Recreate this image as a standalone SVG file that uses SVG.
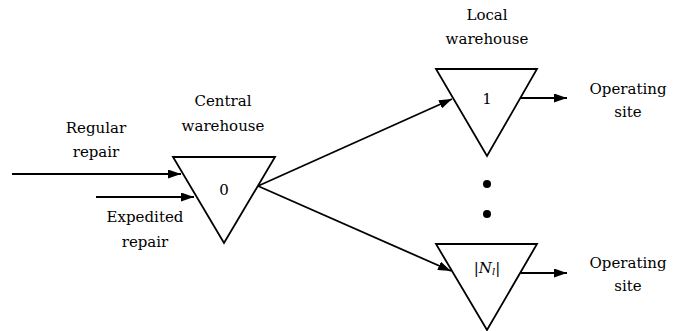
<svg xmlns="http://www.w3.org/2000/svg" width="674" height="331" viewBox="0 0 674 331">
<style>
.tri{fill:#fff;stroke:#000;stroke-width:1.8;stroke-linejoin:miter}
.ln{stroke:#000;stroke-width:1.8;fill:none}
.t{font-family:'DejaVu Serif','Liberation Serif',serif;font-size:15px;fill:#000;text-anchor:middle}
</style>
<defs>
<marker id="ah" markerWidth="13" markerHeight="9" refX="13" refY="4.5" orient="auto" markerUnits="userSpaceOnUse">
<path d="M0,0 L13,4.5 L0,9 Z" fill="#000"/>
</marker>
</defs>
<g id="connectors">
<line class="ln" x1="12" y1="174" x2="181" y2="174" marker-end="url(#ah)"/>
<line class="ln" x1="96" y1="197" x2="194" y2="197" marker-end="url(#ah)"/>
<line class="ln" x1="258" y1="186" x2="452" y2="99" marker-end="url(#ah)"/>
<line class="ln" x1="258" y1="186" x2="451" y2="271" marker-end="url(#ah)"/>
<line class="ln" x1="521" y1="98" x2="567" y2="98" marker-end="url(#ah)"/>
<line class="ln" x1="521" y1="273" x2="567" y2="273" marker-end="url(#ah)"/>
</g>
<g id="central">
<polygon class="tri" points="173,157 275,157 224,243"/>
<text class="t" x="224" y="195">0</text>
<text class="t" x="223" y="106">Central</text>
<text class="t" x="223" y="131">warehouse</text>
</g>
<g id="local1">
<polygon class="tri" points="436,69 537,69 487,156"/>
<text class="t" x="487" y="104">1</text>
<text class="t" x="487" y="20">Local</text>
<text class="t" x="487" y="44">warehouse</text>
</g>
<g id="localN">
<polygon class="tri" points="436,244 537,244 487,330"/>
<text class="t" x="487" y="273"><tspan>|</tspan><tspan font-style="italic">N</tspan><tspan font-style="italic" font-size="10" dy="2">l</tspan><tspan dy="-2">|</tspan></text>
</g>
<g id="dots">
<circle cx="487" cy="184" r="4"/>
<circle cx="487" cy="214" r="4"/>
</g>
<g id="regular">
<text class="t" x="96" y="133">Regular</text>
<text class="t" x="96" y="157">repair</text>
</g>
<g id="expedited">
<text class="t" x="145" y="222">Expedited</text>
<text class="t" x="145" y="247">repair</text>
</g>
<g id="site1">
<text class="t" x="628" y="94">Operating</text>
<text class="t" x="628" y="117">site</text>
</g>
<g id="siteN">
<text class="t" x="628" y="268">Operating</text>
<text class="t" x="628" y="291">site</text>
</g>
</svg>
